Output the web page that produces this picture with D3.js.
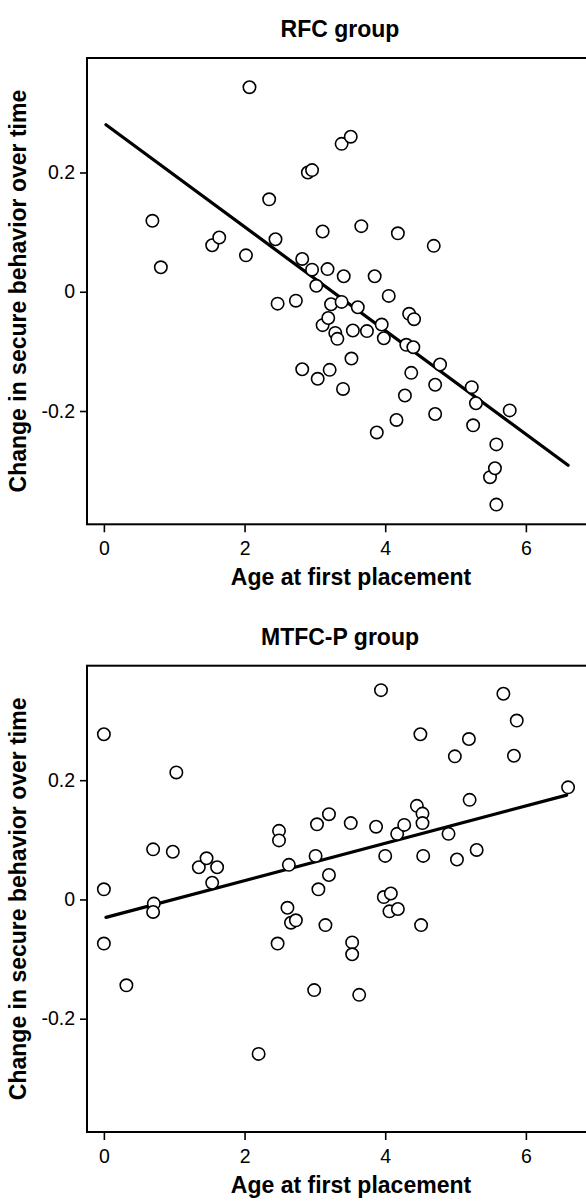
<!DOCTYPE html>
<html>
<head>
<meta charset="utf-8">
<script src="https://cdn.jsdelivr.net/npm/d3@7"></script>
<style>
  body { margin: 0; background: #fff; }
  text { font-family: "Liberation Sans", Arial, Helvetica, sans-serif; fill: #000; }
</style>
</head>
<body>
<div class="container"></div>
<script>
// RFC group: age at first placement vs change in secure behavior
var rfcAge = [0.69, 0.81, 1.54, 1.64, 2.02, 2.07, 2.35, 2.44, 2.47, 2.73,
  2.82, 2.82, 2.90, 2.96, 2.96, 3.02, 3.04, 3.11, 3.11, 3.18,
  3.19, 3.23, 3.21, 3.29, 3.32, 3.38, 3.38, 3.41, 3.40, 3.51,
  3.54, 3.52, 3.61, 3.66, 3.74, 3.85, 3.88, 3.95, 3.98, 4.05,
  4.16, 4.18, 4.28, 4.30, 4.34, 4.37, 4.40, 4.41, 4.69, 4.71,
  4.71, 4.78, 5.23, 5.25, 5.29, 5.49, 5.56, 5.58, 5.58, 5.77];
var rfcChange = [0.119, 0.041, 0.078, 0.091, 0.061, 0.343, 0.155, 0.088, -0.020, -0.015,
  0.055, -0.130, 0.200, 0.204, 0.037, 0.010, -0.146, 0.101, -0.056, 0.038,
  -0.044, -0.021, -0.131, -0.069, -0.079, 0.248, -0.017, 0.026, -0.163, 0.260,
  -0.065, -0.112, -0.026, 0.110, -0.066, 0.026, -0.236, -0.055, -0.078, -0.007,
  -0.215, 0.098, -0.174, -0.089, -0.037, -0.136, -0.093, -0.046, 0.077, -0.156,
  -0.205, -0.122, -0.160, -0.224, -0.187, -0.311, -0.296, -0.256, -0.357, -0.199];
var rfcFit = [[0.03, 0.280], [6.60, -0.291]];

// MTFC-P group
var mtfcAge = [0.00, 0.00, 0.00, 0.32, 0.70, 0.71, 0.70, 0.98, 1.03, 1.35,
  1.46, 1.54, 1.61, 2.20, 2.47, 2.49, 2.49, 2.61, 2.63, 2.66,
  2.73, 2.99, 3.01, 3.03, 3.05, 3.15, 3.20, 3.20, 3.51, 3.53,
  3.53, 3.63, 3.87, 3.94, 3.98, 4.00, 4.06, 4.08, 4.17, 4.18,
  4.27, 4.45, 4.50, 4.51, 4.53, 4.53, 4.54, 4.90, 4.99, 5.02,
  5.19, 5.20, 5.30, 5.68, 5.83, 5.87, 6.60];
var mtfcChange = [0.277, 0.017, -0.074, -0.144, 0.084, -0.007, -0.021, 0.080, 0.213, 0.054,
  0.069, 0.028, 0.054, -0.259, -0.074, 0.115, 0.099, -0.014, 0.058, -0.039,
  -0.035, -0.152, 0.073, 0.126, 0.017, -0.043, 0.143, 0.041, 0.128, -0.072,
  -0.092, -0.160, 0.122, 0.351, 0.004, 0.073, -0.020, 0.010, 0.110, -0.016,
  0.125, 0.157, 0.277, -0.043, 0.144, 0.128, 0.073, 0.110, 0.240, 0.067,
  0.269, 0.167, 0.083, 0.345, 0.241, 0.300, 0.188];
var mtfcFit = [[0.03, -0.030], [6.58, 0.175]];

var xTicks = [0, 2, 4, 6];
var yTicks = [-0.2, 0, 0.2];
var xLabel = "Age at first placement";
var yLabel = "Change in secure behavior over time";

var W = 586, H = 1201;
var left = 87, right = 592, plotH = 466.3;

var svg = d3.select(".container")
  .append("svg")
  .attr("width", W)
  .attr("height", H);

var xScale = d3.scaleLinear().domain([-0.24, 6.94]).range([left, right]);

function panel(top, title, ages, changes, fit) {
  var yScale = d3.scaleLinear().domain([-0.39, 0.392]).range([top + plotH, top]);
  var g = svg.append("g");

  // title
  g.append("text")
    .attr("x", 340)
    .attr("y", top - 21)
    .attr("text-anchor", "middle")
    .style("font-size", "23px")
    .style("font-weight", "bold")
    .text(title);

  // x axis
  var xAxis = d3.axisBottom(xScale)
    .tickValues(xTicks)
    .tickSize(8)
    .tickPadding(9)
    .tickFormat(d3.format("d"));
  var xg = g.append("g")
    .attr("transform", "translate(0," + (top + plotH) + ")")
    .call(xAxis);
  xg.select(".domain").remove();
  xg.selectAll("line").attr("stroke", "#000").attr("stroke-width", 1.6);
  xg.selectAll("text").style("font-size", "19.5px").attr("fill", "#000");

  // y axis
  var yAxis = d3.axisLeft(yScale)
    .tickValues(yTicks)
    .tickSize(7)
    .tickPadding(5)
    .tickFormat((d) => (d === 0 ? "0" : String(d)));
  var yg = g.append("g")
    .attr("transform", "translate(" + left + ",0)")
    .call(yAxis);
  yg.select(".domain").remove();
  yg.selectAll("line").attr("stroke", "#000").attr("stroke-width", 1.6);
  yg.selectAll("text").style("font-size", "19.5px").attr("fill", "#000");

  // frame
  g.append("rect")
    .attr("x", left)
    .attr("y", top)
    .attr("width", right - left)
    .attr("height", plotH)
    .attr("fill", "none")
    .attr("stroke", "#000")
    .attr("stroke-width", 2);

  // axis titles
  g.append("text")
    .attr("x", 351)
    .attr("y", top + plotH + 61)
    .attr("text-anchor", "middle")
    .style("font-size", "23px")
    .style("font-weight", "bold")
    .text(xLabel);

  g.append("text")
    .attr("transform", "translate(26," + (top + plotH / 2) + ") rotate(-90)")
    .attr("text-anchor", "middle")
    .style("font-size", "23px")
    .style("font-weight", "bold")
    .text(yLabel);

  // fit line
  var line = d3.line()
    .x((d) => xScale(d[0]))
    .y((d) => yScale(d[1]));
  g.append("path")
    .datum(fit)
    .attr("d", line)
    .attr("fill", "none")
    .attr("stroke", "#000")
    .attr("stroke-width", 3.2)
    .attr("stroke-linecap", "round");

  // points
  g.selectAll("circle")
    .data(ages)
    .enter()
    .append("circle")
    .attr("cx", (d) => xScale(d))
    .attr("cy", (d, i) => yScale(changes[i]))
    .attr("r", 6.2)
    .attr("fill", "#fff")
    .attr("stroke", "#000")
    .attr("stroke-width", 1.6);
}

panel(58, "RFC group", rfcAge, rfcChange, rfcFit);
panel(665.7, "MTFC-P group", mtfcAge, mtfcChange, mtfcFit);
</script>
</body>
</html>
